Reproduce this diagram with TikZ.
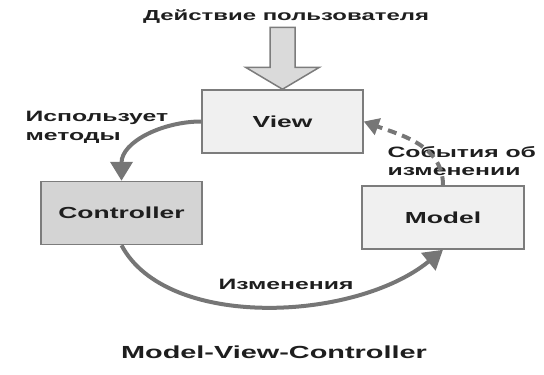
\documentclass[tikz,border=0pt]{standalone}
\usepackage{fontspec}
\setmainfont{Liberation Sans}[FakeStretch=1.65]
\usepackage{xcolor}
\usepackage{tikz}
\usetikzlibrary{arrows.meta, calc}
\definecolor{boxline}{HTML}{7C7C7C}
\definecolor{arrowgray}{HTML}{767676}
\definecolor{lightfill}{HTML}{F0F0F0}
\definecolor{darkfill}{HTML}{D4D4D4}
\definecolor{bigfill}{HTML}{DADADA}
\definecolor{txt}{HTML}{1E1E1E}
\tikzset{% styles for the MVC picture
	box/.style={draw=boxline, line width=1.5pt, minimum height=63pt, text=txt,
		font=\fontsize{16}{18}\selectfont\bfseries},
	lightbox/.style={box, fill=lightfill},
	darkbox/.style={box, fill=darkfill},
	grayarrow/.style={-{Triangle[length=19pt,width=22pt]}, line width=4pt, arrowgray},
	graydash/.style={-{Triangle[length=15pt,width=17pt]}, line width=4pt, arrowgray,
		dash pattern=on 9pt off 6pt},
	bigarrow/.style={draw=boxline, fill=bigfill, line width=1.5pt},
	lbl/.style={text=txt, align=left, font=\fontsize{15}{18.5}\selectfont\bfseries},
	caption/.style={text=txt, font=\fontsize{14.5}{17}\selectfont\bfseries},
}
\begin{document}
\begin{tikzpicture}[x=1pt, y=-1pt]
	\useasboundingbox (0,0) rectangle (544,375);

	\node[lightbox, minimum width=161pt] (view) at (282.5,121.5) {View};
	\node[darkbox, minimum width=161pt] (ctrl) at (121.5,213) {Controller};
	\node[lightbox, minimum width=162pt] (model) at (443,217.5) {Model};

	\node[caption] (user) at (286,17) {Действие пользователя};
	\draw[bigarrow] (view.north) -- ++(-37,-22) -- ++(24.5,0) -- ++(0,-40)
		-- ++(25,0) -- ++(0,40) -- ++(24.5,0) -- cycle;

	\node[lbl, anchor=west] (uses) at (22,127.5) {Использует\\методы};
	\node[lbl, anchor=west] (events) at (384,161) {События об\\изменении};
	\node[lbl] (changes) at (286,284) {Изменения};

	\draw[grayarrow] (view.west) to[out=180, in=90] (ctrl.north);
	\draw[graydash] (model.north) to[out=90, in=-20] (view.east);
	\draw[grayarrow] (ctrl.south) .. controls +(45,85) and +(-88,72) .. (model.south);

	\node[caption, font=\fontsize{17.5}{20}\selectfont\bfseries] (mvc) at (274,352)
		{Model-View-Controller};
\end{tikzpicture}
\end{document}
